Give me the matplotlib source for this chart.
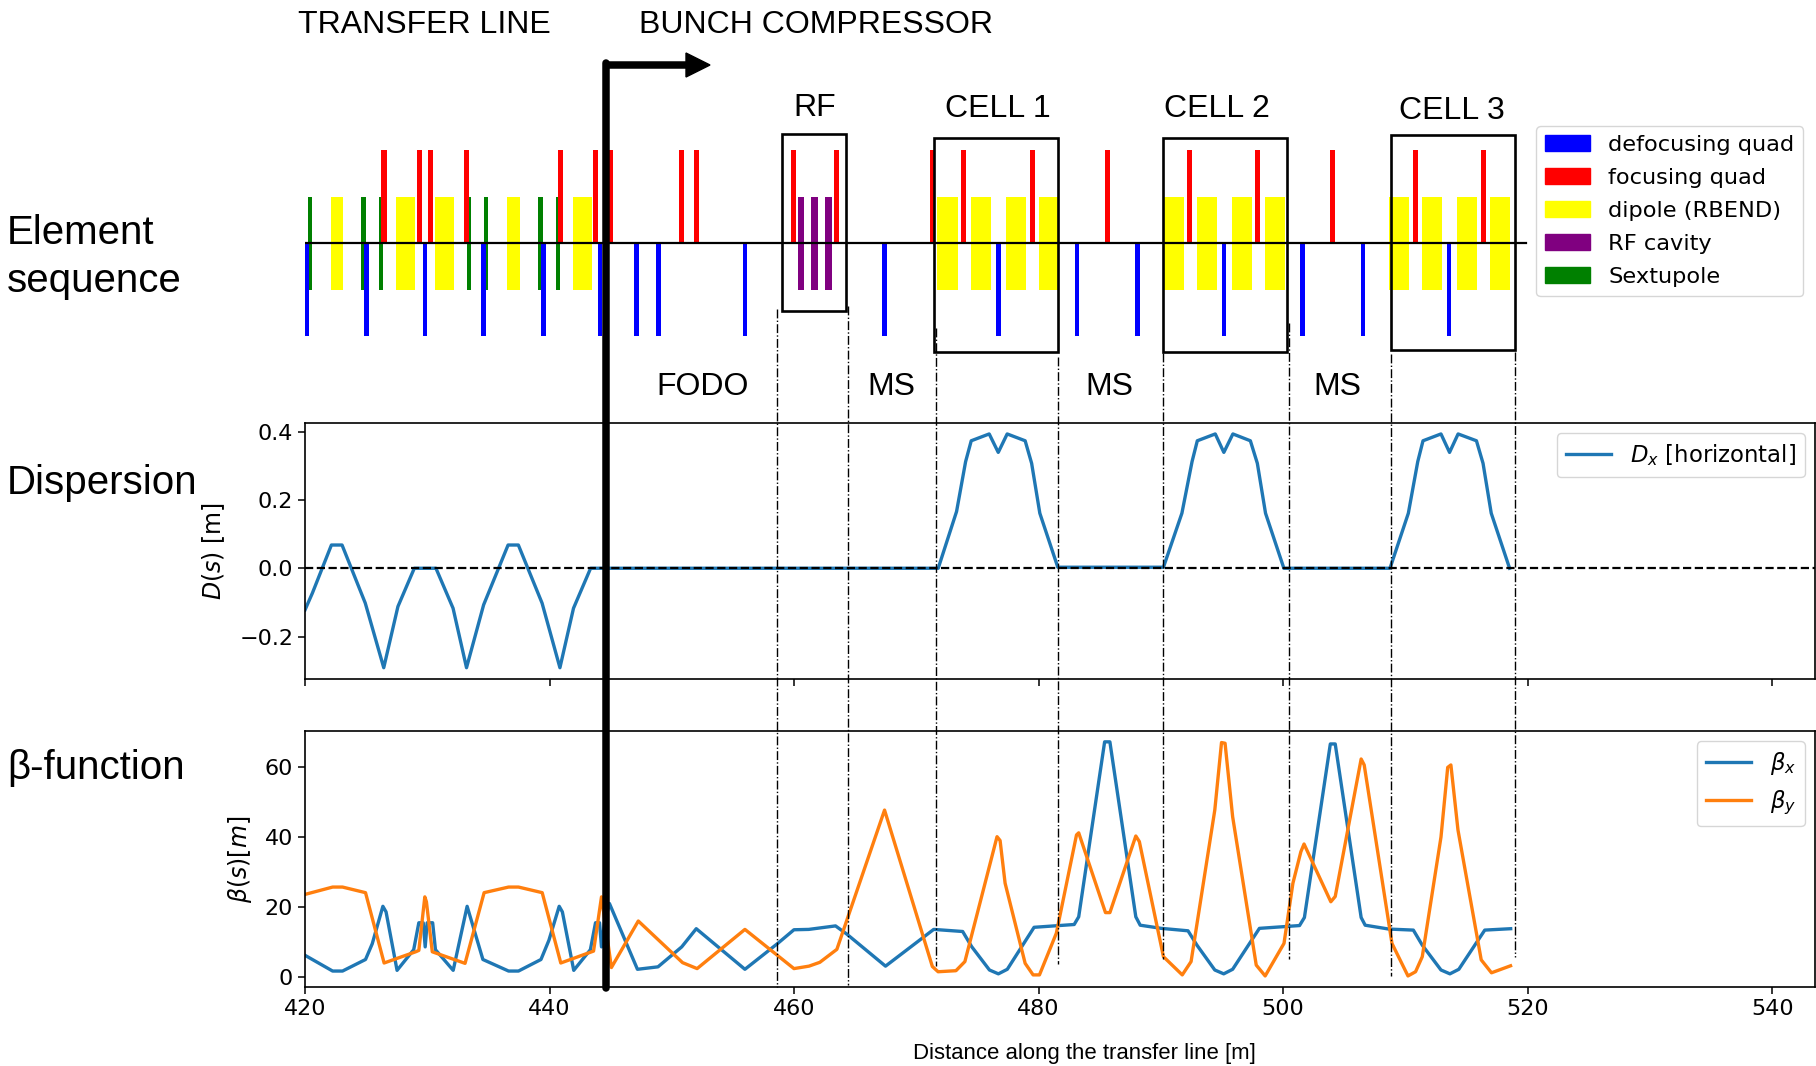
# Beam line layout with dispersion and beta functions
import matplotlib
matplotlib.use("Agg")
import matplotlib.pyplot as plt
from matplotlib.patches import Patch, Rectangle, Polygon

W, H = 1816, 1066
plt.rcParams['font.family'] = ['DejaVu Sans']
plt.rcParams['mathtext.fontset'] = 'dejavusans'

# -------------------------------
# 1. Element sequence [m]
# -------------------------------
defoc_s = [420.15, 425.04, 429.82, 434.61, 439.49, 444.14, 447.12, 448.93, 455.98, 467.40,
           476.70, 483.14, 488.08, 495.15, 501.60, 506.54, 513.58]
foc_s = [426.46, 429.34, 430.27, 433.18, 440.91, 443.79, 444.95, 450.80, 452.00, 459.95,
         463.48, 471.29, 473.89, 479.50, 485.61, 492.35, 497.92, 504.07, 510.81, 516.38]
sext_s = [420.41, 424.78, 426.23, 433.38, 434.83, 439.26, 440.72]
rf_s = [460.57, 461.70, 462.83]
dipole_start = [422.09, 427.43, 430.63, 436.55, 441.88, 471.72, 474.43, 477.33, 480.00,
                490.21, 492.92, 495.79, 498.49, 508.64, 511.34, 514.25, 516.95]
dipole_end = [423.09, 428.98, 432.21, 437.58, 443.50, 473.39, 476.10, 478.97, 481.64,
              491.88, 494.55, 497.42, 500.13, 510.27, 513.01, 515.88, 518.59]

# -------------------------------
# 2. Optics functions
# -------------------------------
disp_s = [420, 420.6, 422.16, 423.03, 424.93, 426.44, 427.6, 428.94, 430.71, 432.11, 433.21,
          434.61, 436.61, 437.45, 439.39, 440.85, 441.96, 443.36, 471.79, 473.29, 474.03,
          474.49, 475.96, 476.7, 477.43, 478.9, 479.43, 480.1, 481.57, 490.21, 491.72, 492.55,
          492.98, 494.45, 495.15, 495.89, 497.32, 497.89, 498.56, 500.06, 508.74, 510.24,
          511.01, 511.44, 512.91, 513.61, 514.31, 515.81, 516.35, 517.02, 518.52]
disp_x = [-0.122, -0.073, 0.068, 0.068, -0.102, -0.291, -0.112, 0, 0, -0.117, -0.291,
          -0.107, 0.068, 0.068, -0.102, -0.291, -0.117, 0, 0, 0.166, 0.312,
          0.373, 0.393, 0.339, 0.393, 0.373, 0.307, 0.161, 0.003, 0.003, 0.161, 0.312,
          0.373, 0.393, 0.339, 0.393, 0.373, 0.307, 0.161, 0, 0, 0.161,
          0.312, 0.373, 0.393, 0.339, 0.393, 0.373, 0.307, 0.161, 0]

betax_s = [420, 422.26, 423.07, 424.95, 425.5, 426.37, 426.63, 427.53, 428.89, 429.31, 429.67,
           429.83, 429.99, 430.44, 430.67, 432.12, 433.26, 434.55, 436.65, 437.46, 439.3,
           439.95, 440.79, 441.05, 441.98, 443.34, 443.76, 444.09, 444.25, 444.5, 444.9,
           447.19, 448.87, 450.81, 452.0, 455.98, 458.63, 459.99, 461.2, 463.39, 464.3,
           467.48, 471.42, 473.79, 474.52, 475.98, 476.71, 477.44, 479.63, 482.91, 483.28,
           485.4, 485.83, 487.95, 488.31, 490.03, 492.22, 492.95, 494.41, 495.14, 495.87,
           498.06, 501.34, 501.74, 503.86, 504.26, 506.38, 506.71, 508.64, 510.65, 511.38,
           512.91, 513.64, 514.37, 516.49, 518.61]
betax = [6.2, 1.7, 1.7, 5, 9.5, 20.2, 18.6, 1.9, 7.8, 15.5, 15.5,
         8.6, 15.5, 15.5, 7.8, 1.9, 20.2, 5, 1.7, 1.7, 5,
         10.5, 20.2, 18.6, 1.9, 7.8, 15.5, 15.5, 8.6, 15.5, 21,
         2.2, 2.9, 8.6, 13.8, 2.2, 9.5, 13.5, 13.6, 14.6, 12.3,
         3.1, 13.6, 13, 8.7, 2, 0.9, 2.2, 14.2, 15, 17.2,
         67.2, 67.2, 17.2, 14.8, 13.9, 13.2, 9.1, 2, 0.9, 2.2,
         13.9, 14.7, 17, 66.6, 66.6, 17, 14.8, 13.7, 13.4, 9.1,
         2, 0.9, 2.2, 13.4, 13.8]

betay_s = [420, 422.26, 423.07, 424.95, 426.47, 429.05, 429.31, 429.8, 429.93, 430.41, 433.09,
           434.65, 436.65, 437.46, 439.4, 440.92, 443.6, 444.25, 445.06, 447.26, 450.88,
           452.07, 455.98, 459.99, 461.22, 462.11, 463.5, 467.4, 471.31, 471.78, 473.24,
           473.97, 476.6, 476.85, 477.26, 478.9, 479.55, 480.07, 481.45, 483.1, 483.28,
           485.47, 485.83, 487.95, 488.24, 490.21, 491.75, 492.47, 494.41, 494.96, 495.25,
           495.87, 497.8, 498.53, 500.07, 500.8, 501.45, 501.71, 503.9, 504.26, 506.38,
           506.63, 508.9, 510.21, 510.83, 511.38, 512.91, 513.46, 513.72, 514.3, 516.2,
           517.04, 518.6]
betay = [23.6, 25.7, 25.7, 24.1, 4, 7.2, 7.6, 22.9, 21.5, 7.2, 3.9,
         24.1, 25.7, 25.7, 24.1, 4, 7.4, 22.9, 2.7, 16, 4.1,
         2.4, 13.6, 2.4, 3.1, 4.2, 7.9, 47.7, 3, 1.5, 1.8,
         4.4, 40.1, 39, 26.8, 3.9, 0.6, 0.6, 12.5, 40.6, 41.2,
         18.4, 18.4, 40.3, 38.7, 5.8, 0.6, 4.4, 47.7, 67, 66.8,
         45.8, 3.4, 0.3, 9.6, 26.8, 35.8, 38, 21.5, 23, 62.3,
         60.6, 9.6, 0.3, 1.5, 5.8, 40, 59.9, 60.6, 42, 4.9,
         1.2, 3.2]

x_ticks = [420, 440, 460, 480, 500, 520, 540]
legend_labels = ["defocusing quad", "focusing quad", "dipole (RBEND)", "RF cavity", "Sextupole"]
legend_colors = ["blue", "red", "yellow", "purple", "green"]

# -------------------------------
# 3. Figure and axes
# -------------------------------
def axes_px(left, top, right, bottom):
    return [left / W, 1 - bottom / H, (right - left) / W, (bottom - top) / H]

fig = plt.figure(figsize=(W / 100, H / 100), dpi=100)
xlim = (420, 543.5)

ax_el = fig.add_axes(axes_px(305, 150, 1815, 336))
ax_d = fig.add_axes(axes_px(305, 423, 1815, 679))
ax_b = fig.add_axes(axes_px(305, 731, 1815, 987))

# Element sequence
ax_el.bar(dipole_start, [2] * len(dipole_start), width=[e - s for s, e in zip(dipole_start, dipole_end)],
          bottom=-1, align="edge", color="yellow")
ax_el.bar(rf_s, 2, width=0.55, bottom=-1, color="purple")
ax_el.bar(sext_s, 2, width=0.34, bottom=-1, color="green")
ax_el.bar(defoc_s, 2, width=0.38, bottom=-2, color="blue")
ax_el.bar(foc_s, 2, width=0.42, bottom=0, color="red")
ax_el.plot([420, 519.9], [0, 0], color="black", lw=1.6)
ax_el.set_xlim(xlim)
ax_el.set_ylim(-2, 2)
ax_el.axis("off")

# Dispersion
ax_d.plot(disp_s, disp_x, color="tab:blue", lw=2.4, label=r"$D_x$ [horizontal]")
ax_d.axhline(0, color="black", ls="--", lw=1.6)
ax_d.set_xlim(xlim)
ax_d.set_ylim(-0.324, 0.425)
ax_d.set_xticks(x_ticks)
ax_d.set_xticklabels([])
ax_d.set_yticks([-0.2, 0.0, 0.2, 0.4])
ax_d.set_ylabel(r"$D(s)$ [m]", fontsize=17, labelpad=9)
ax_d.tick_params(labelsize=16, width=1.1, length=5)
ax_d.legend(loc="upper right", fontsize=16.4, borderaxespad=0.45)

# Beta functions
ax_b.plot(betax_s, betax, color="tab:blue", lw=2.4, label=r"$\beta_x$")
ax_b.plot(betay_s, betay, color="tab:orange", lw=2.4, label=r"$\beta_y$")
ax_b.set_xlim(xlim)
ax_b.set_ylim(-2.86, 70.3)
ax_b.set_xticks(x_ticks)
ax_b.set_yticks([0, 20, 40, 60])
ax_b.set_ylabel(r"$\beta(s) [m]$", fontsize=17, labelpad=8)
ax_b.tick_params(labelsize=16, width=1.1, length=5)
ax_b.legend(loc="upper right", fontsize=16.4, borderaxespad=0.45)

for ax in (ax_d, ax_b):
    for side in ax.spines.values():
        side.set_linewidth(1.2)

# -------------------------------
# 4. Annotation layer in pixels
# -------------------------------
ov = fig.add_axes([0, 0, 1, 1], zorder=10)
ov.set_xlim(0, W)
ov.set_ylim(H, 0)
ov.axis("off")

boxes = [(782, 134, 846, 311), (934, 138, 1058, 352), (1163, 138, 1287, 352), (1391, 135, 1515, 350)]
for x0, y0, x1, y1 in boxes:
    ov.add_patch(Rectangle((x0, y0), x1 - x0, y1 - y0, fill=False, ec="black", lw=1.9))

guides = [(776.6, 309, 987), (847.8, 306, 985), (936.4, 328, 966), (1057.5, 357, 964),
          (1163.3, 353, 959), (1288.8, 323, 959), (1391, 354, 976), (1515, 352, 957)]
for x, y0, y1 in guides:
    ov.plot([x, x], [y0, y1], color="black", ls="-.", lw=1.0)

# Thick boundary arrow
ov.plot([605.5, 605.5], [63, 988], color="black", lw=5.4, solid_capstyle="round")
ov.plot([605.5, 690], [65, 65], color="black", lw=5.4, solid_capstyle="butt")
ov.add_patch(Polygon([(686, 53), (710, 65), (686, 77)], closed=True, color="black"))

labels = [("TRANSFER LINE", 298, 25, 23), ("BUNCH COMPRESSOR", 639, 25, 23),
          ("RF", 793, 108, 23), ("CELL 1", 945, 109, 23), ("CELL 2", 1164, 109, 23),
          ("CELL 3", 1399, 111, 23), ("FODO", 656, 387, 23), ("MS", 867, 387, 23),
          ("MS", 1085, 387, 23), ("MS", 1313, 387, 23),
          ("Element", 7, 233, 29), ("sequence", 7, 281, 29), ("Dispersion", 7, 483, 29),
          ("β-function", 7, 768, 29)]
for txt, x, y, size in labels:
    ov.text(x, y, txt, fontsize=size, family="Liberation Sans", ha="left", va="center")
ov.text(1084, 1053, "Distance along the transfer line [m]", fontsize=15.9,
        family="Liberation Sans", ha="center", va="center")

handles = [Patch(color=c, label=l) for c, l in zip(legend_colors, legend_labels)]
ov.legend(handles=handles, fontsize=16.2, loc="upper left", framealpha=0.8,
          bbox_to_anchor=(1536 / W, 1 - 126 / H), bbox_transform=fig.transFigure, borderaxespad=0,
          labelspacing=0.58)

plt.savefig("out.png", dpi=100)
